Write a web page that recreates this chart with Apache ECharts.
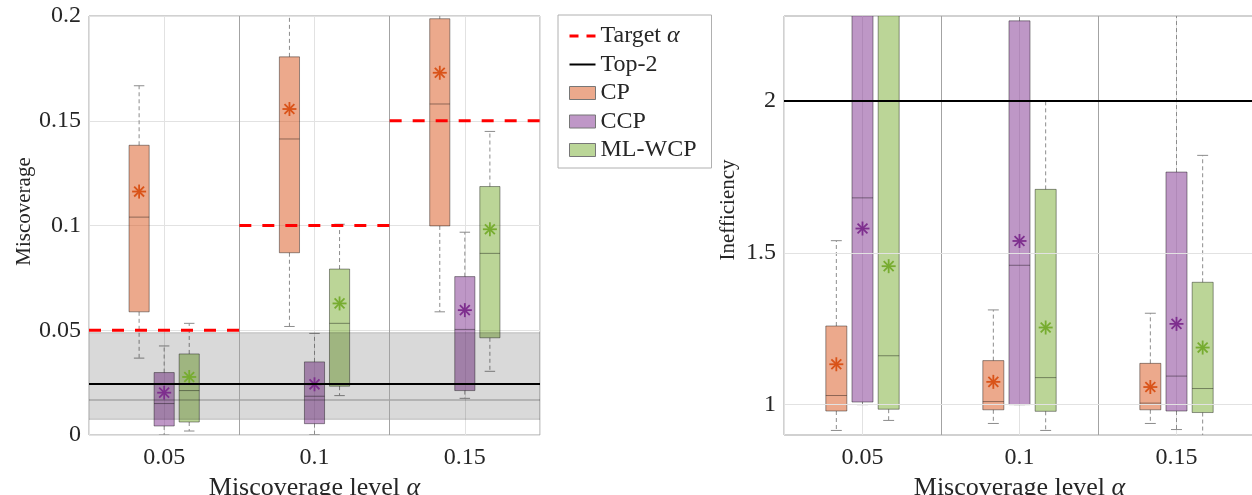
<!DOCTYPE html>
<html><head><meta charset="utf-8">
<script src="https://cdn.jsdelivr.net/npm/echarts@6/dist/echarts.min.js"></script>
<style>html,body{margin:0;padding:0;background:#fff}#c{width:1252px;height:495px}</style>
</head><body><div id="c"></div>
<script>
// ---------- data ----------
const alphaTicks = ['0.05', '0.1', '0.15'];
const targetAlpha = [0.05, 0.1, 0.15];
// rows per alpha: [lower whisker, Q1, median, Q3, upper whisker, mean]
const cpMiscov = [
  [0.0367, 0.0588, 0.104, 0.1383, 0.1667, 0.1162],
  [0.0518, 0.087, 0.1413, 0.1805, 0.215, 0.1556],
  [0.0588, 0.0998, 0.158, 0.1987, 0.23, 0.1729]
];
const ccpMiscov = [
  [0.0, 0.0043, 0.015, 0.0298, 0.0425, 0.0202],
  [0.0001, 0.0054, 0.0185, 0.0349, 0.0485, 0.0242],
  [0.0175, 0.0212, 0.0504, 0.0756, 0.0968, 0.0596]
];
const mlwcpMiscov = [
  [0.0019, 0.0062, 0.0212, 0.0387, 0.0533, 0.0277],
  [0.0188, 0.0233, 0.0533, 0.0792, 0.1006, 0.0628],
  [0.0304, 0.0464, 0.0867, 0.1186, 0.1449, 0.0982]
];
const cpIneff = [
  [0.915, 0.979, 1.030, 1.259, 1.54, 1.133],
  [0.938, 0.983, 1.010, 1.145, 1.312, 1.075],
  [0.938, 0.983, 1.005, 1.136, 1.301, 1.058]
];
const ccpIneff = [
  [1.0, 1.0086, 1.681, 2.5, 3.0, 1.580],
  [1.0, 1.0, 1.459, 2.264, 2.4, 1.539],
  [0.918, 0.979, 1.094, 1.766, 2.35, 1.266]
];
const mlwcpIneff = [
  [0.948, 0.985, 1.161, 2.4, 2.9, 1.456],
  [0.915, 0.978, 1.089, 1.709, 2.0, 1.254],
  [0.88, 0.974, 1.053, 1.403, 1.821, 1.188]
];
const top2Miscov = 0.0244;
const top2Band = [0.0075, 0.0488];
const top2Median = 0.0167;
const top2Ineff = 2;
const ineffTicks = [1, 1.5, 2];

// ---------- style ----------
const FONT = "'Liberation Serif','Times New Roman',serif";
const TXT = '#262626';
const methods = [
  {name: 'CP', color: '#D95319', fill: 'rgba(217,83,25,0.5)', off: -1/6},
  {name: 'CCP', color: '#7E2F8E', fill: 'rgba(126,47,142,0.5)', off: 0},
  {name: 'ML-WCP', color: '#77AC30', fill: 'rgba(119,172,48,0.5)', off: 1/6}
];
const BOX_W = 0.134;

function boxItem(offset) {
  return function (params, api) {
    const x = api.value(0) + offset;
    const p = i => api.coord([x, api.value(i)]);
    const lo = p(1), q1 = p(2), med = p(3), q3 = p(4), hi = p(5);
    const hw = api.size([BOX_W, 0])[0] / 2;
    const cap = hw * 0.52;
    const cx = lo[0];
    const whisk = {stroke: '#8c8c8c', lineWidth: 1, lineDash: [4, 3]};
    const capS = {stroke: '#8c8c8c', lineWidth: 1};
    const edge = 'rgba(0,0,0,0.4)';
    return {type: 'group', children: [
      {type: 'line', shape: {x1: cx, y1: q3[1], x2: cx, y2: hi[1]}, style: whisk},
      {type: 'line', shape: {x1: cx, y1: q1[1], x2: cx, y2: lo[1]}, style: whisk},
      {type: 'line', shape: {x1: cx - cap, y1: hi[1], x2: cx + cap, y2: hi[1]}, style: capS},
      {type: 'line', shape: {x1: cx - cap, y1: lo[1], x2: cx + cap, y2: lo[1]}, style: capS},
      {type: 'rect', shape: {x: cx - hw, y: q3[1], width: 2 * hw, height: q1[1] - q3[1]},
        style: {fill: api.visual('color'), stroke: edge, lineWidth: 1}},
      {type: 'line', shape: {x1: cx - hw, y1: med[1], x2: cx + hw, y2: med[1]}, style: {stroke: edge, lineWidth: 1}}
    ]};
  };
}
function starItem(offset, color) {
  return function (params, api) {
    const c = api.coord([api.value(0) + offset, api.value(6)]);
    const r = 7, kids = [];
    for (let k = 0; k < 4; k++) {
      const a = k * Math.PI / 4, dx = r * Math.cos(a), dy = r * Math.sin(a);
      kids.push({type: 'line', shape: {x1: c[0] - dx, y1: c[1] - dy, x2: c[0] + dx, y2: c[1] + dy},
        style: {stroke: color, lineWidth: 1.8}});
    }
    return {type: 'group', children: kids};
  };
}
function rowsToData(rows) { return rows.map((r, i) => [i + 1].concat(r)); }

const series = [];
[[cpMiscov, ccpMiscov, mlwcpMiscov], [cpIneff, ccpIneff, mlwcpIneff]].forEach((sets, gi) => {
  const ml = [{xAxis: 1.5}, {xAxis: 2.5}];
  series.push({type: 'line', xAxisIndex: gi, yAxisIndex: gi, data: [], silent: true, z: 1,
    markLine: {silent: true, symbol: ['none', 'none'], label: {show: false}, animation: false,
      lineStyle: {color: '#a3a3a3', type: 'solid', width: 1}, data: ml}});
  if (gi === 1) {
    series.push({type: 'line', xAxisIndex: 1, yAxisIndex: 1, data: [], silent: true, z: 1,
      markLine: {silent: true, symbol: ['none', 'none'], label: {show: false}, animation: false,
        lineStyle: {color: '#e2e2e2', type: 'solid', width: 1}, data: ineffTicks.map(v => ({yAxis: v}))}});
  }
  methods.forEach((m, mi) => {
    series.push({type: 'custom', name: m.name, xAxisIndex: gi, yAxisIndex: gi, clip: true, z: 2,
      itemStyle: {color: m.fill}, renderItem: boxItem(m.off), data: rowsToData(sets[mi]),
      encode: {x: 0, y: [1, 2, 3, 4, 5]}, silent: true});
  });
  if (gi === 0) {
    series.push({type: 'custom', xAxisIndex: 0, yAxisIndex: 0, clip: true, z: 3, silent: true,
      data: [[0.5, 3.5, top2Band[0], top2Band[1], top2Median]],
      encode: {x: [0, 1], y: [2, 3]},
      renderItem: function (params, api) {
        const a = api.coord([api.value(0), api.value(3)]);
        const b = api.coord([api.value(1), api.value(2)]);
        const m = api.coord([api.value(0), api.value(4)]);
        return {type: 'group', children: [
          {type: 'rect', shape: {x: a[0], y: a[1], width: b[0] - a[0], height: b[1] - a[1]},
            style: {fill: 'rgba(0,0,0,0.15)'}},
          {type: 'line', shape: {x1: a[0], y1: a[1], x2: b[0], y2: a[1]}, style: {stroke: 'rgba(0,0,0,0.2)', lineWidth: 1}},
          {type: 'line', shape: {x1: a[0], y1: b[1], x2: b[0], y2: b[1]}, style: {stroke: 'rgba(0,0,0,0.2)', lineWidth: 1}},
          {type: 'line', shape: {x1: a[0], y1: m[1], x2: b[0], y2: m[1]}, style: {stroke: 'rgba(0,0,0,0.35)', lineWidth: 1}}
        ]};
      }});
  }
  methods.forEach((m, mi) => {
    series.push({type: 'custom', xAxisIndex: gi, yAxisIndex: gi, clip: true, z: 4, silent: true,
      renderItem: starItem(m.off, m.color), data: rowsToData(sets[mi]), encode: {x: 0, y: 6}});
  });
});
const targetData = [];
targetAlpha.forEach((a, i) => { targetData.push([i + 0.5, a], [i + 1.5, a], [i + 1.5, '-']); });
series.push({type: 'line', name: 'Target α', xAxisIndex: 0, yAxisIndex: 0, data: targetData, z: 5,
  symbol: 'none', silent: true, connectNulls: false, color: '#ff0000',
  lineStyle: {color: '#ff0000', width: 3, type: [12, 11]}});
series.push({type: 'line', name: 'Top-2', xAxisIndex: 0, yAxisIndex: 0, data: [[0.5, top2Miscov], [3.5, top2Miscov]],
  z: 5, symbol: 'none', silent: true, color: '#000', lineStyle: {color: '#000', width: 2}});
series.push({type: 'line', xAxisIndex: 1, yAxisIndex: 1, data: [[0.5, top2Ineff], [3.5, top2Ineff]],
  z: 5, symbol: 'none', silent: true, color: '#000', lineStyle: {color: '#000', width: 2}});

const xAxisBase = gi => ({
  type: 'value', gridIndex: gi, min: 0.5, max: 3.5, interval: 0.5,
  name: 'Miscoverage level {i|α}', nameLocation: 'middle', nameGap: 35,
  nameTextStyle: {fontFamily: FONT, fontSize: 26, color: TXT, rich: {i: {fontFamily: FONT, fontSize: 26, fontStyle: 'italic', color: TXT}}},
  axisLine: {show: false}, axisTick: {show: false},
  axisLabel: {customValues: [1, 2, 3], formatter: v => alphaTicks[Math.round(v) - 1] || '',
    fontFamily: FONT, fontSize: 24, color: TXT, margin: 11},
  splitLine: {show: true, lineStyle: {color: '#e2e2e2', width: 1}}
});

const option = {
  animation: false,
  backgroundColor: '#fff',
  grid: [
    {left: 89, top: 16, width: 451, height: 419, outerBoundsMode: 'none', containLabel: false,
      show: true, borderColor: '#a3a3a3', borderWidth: 1, backgroundColor: 'transparent'},
    {left: 784, top: 16, width: 471, height: 419, outerBoundsMode: 'none', containLabel: false,
      show: true, borderColor: '#a3a3a3', borderWidth: 1, backgroundColor: 'transparent'}
  ],
  xAxis: [xAxisBase(0), xAxisBase(1)],
  yAxis: [
    {type: 'value', gridIndex: 0, min: 0, max: 0.2, interval: 0.05,
      axisLine: {show: false}, axisTick: {show: false},
      axisLabel: {fontFamily: FONT, fontSize: 24, color: TXT, margin: 8},
      splitLine: {show: true, lineStyle: {color: '#e2e2e2', width: 1}}},
    {type: 'value', gridIndex: 1, min: 0.9, max: 2.28,
      axisLine: {show: false}, axisTick: {show: false},
      axisLabel: {customValues: ineffTicks, fontFamily: FONT, fontSize: 24, color: TXT, margin: 8},
      splitLine: {show: false}}
  ],
  legend: {
    orient: 'vertical', left: 558, top: 15,
    padding: [9, 15, 6, 11], itemGap: 4.5, itemWidth: 26, itemHeight: 13,
    backgroundColor: '#fff', borderColor: '#b0b0b0', borderWidth: 1,
    selectedMode: false,
    textStyle: {fontFamily: FONT, fontSize: 24, color: TXT,
      rich: {i: {fontFamily: FONT, fontSize: 24, fontStyle: 'italic', color: TXT}}},
    formatter: n => n === 'Target α' ? 'Target {i|α}' : n,
    data: [
      {name: 'Target α', icon: 'path://M0,0h9v3h-9z M17,0h9v3h-9z', itemStyle: {color: '#ff0000', borderWidth: 0}},
      {name: 'Top-2', icon: 'path://M0,0h26v2h-26z', itemStyle: {color: '#000', borderWidth: 0}},
      {name: 'CP', icon: 'rect', itemStyle: {color: 'rgb(236,169,140)', borderColor: '#777', borderWidth: 1}},
      {name: 'CCP', icon: 'rect', itemStyle: {color: 'rgb(191,151,199)', borderColor: '#777', borderWidth: 1}},
      {name: 'ML-WCP', icon: 'rect', itemStyle: {color: 'rgb(187,214,152)', borderColor: '#777', borderWidth: 1}}
    ]
  },
  graphic: [
    {type: 'text', x: 24.5, y: 211.5, rotation: Math.PI / 2,
      style: {text: 'Miscoverage', font: '21px ' + FONT, fill: TXT, align: 'center', verticalAlign: 'middle'}},
    {type: 'text', x: 728, y: 210, rotation: Math.PI / 2,
      style: {text: 'Inefficiency', font: '21px ' + FONT, fill: TXT, align: 'center', verticalAlign: 'middle'}}
  ],
  series: series
};
const chart = echarts.init(document.getElementById('c'), null, {renderer: 'canvas'});
chart.setOption(option);
</script></body></html>
